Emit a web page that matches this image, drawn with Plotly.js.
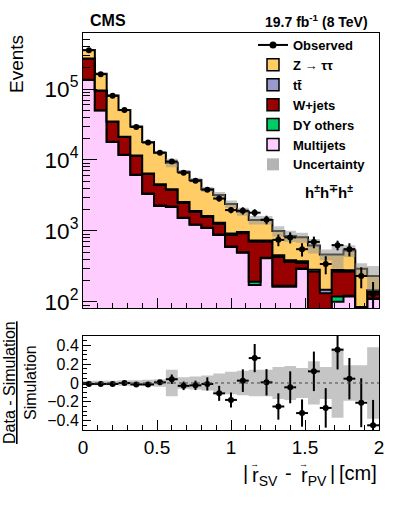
<!DOCTYPE html>
<html><head><meta charset="utf-8">
<script src="https://cdn.plot.ly/plotly-3.0.1.min.js"></script>
<style>html,body{margin:0;padding:0;background:#fff}#plot{width:399px;height:505px}</style>
</head><body><div id="plot"></div>
<script>
// bin edges of |r_SV - r_PV| [cm]
const binEdges = [0,0.08,0.16,0.24,0.32,0.40,0.48,0.56,0.64,0.72,0.80,0.88,0.96,1.04,1.12,1.20,1.28,1.36,1.44,1.52,1.60,1.68,1.76,1.84,1.92,2.00];
// stacked components (events per bin)
const multijets = [134000,49800,17900,11750,6150,3320,2250,2180,1520,1220,1100,880,596,494,173,412,164,164,292,70,70,101,119,45,110];
const dyOthers  = [500,300,150,100,60,40,30,25,20,15,12,10,8,8,20,6,5,5,4,3,3,18,3,2,2];
const wJets     = [135000,44500,16500,9250,5200,2990,2170,1575,940,615,458,366,275,427,513,288,262,197,58,194,60,148,145,28,26];
const ttbar     = [300,300,250,200,150,120,100,80,70,60,50,45,40,35,30,28,25,22,20,18,16,14,12,10,8];
const zTauTau   = [86000,69000,46200,29300,18040,11430,8050,5300,4290,3310,2240,1909,1481,916,694,696,544,463,441,340,318,186,252,209,86];
// observed data
const observed    = [352000,162000,80200,50500,29150,17630,12690,9530,6630,5090,3820,2860,1970,1930,1810,1440,750,812,554,702,343,632,555,232,128];
const observedErr = [1780,980,650,510,360,270,250,460,310,260,270,260,190,225,215,200,140,145,118,131,98,98,117,76,63];
// ratio panel
const ratio    = [-0.01,-0.01,-0.01,0.0,-0.015,-0.015,0.007,0.04,-0.03,-0.025,-0.01,-0.11,-0.18,0.025,0.265,0.007,-0.25,-0.046,-0.32,0.124,-0.265,0.354,0.046,-0.21,-0.45];
const ratioErr = [0.005,0.006,0.008,0.01,0.012,0.015,0.02,0.05,0.045,0.05,0.07,0.08,0.08,0.12,0.15,0.14,0.14,0.17,0.145,0.21,0.21,0.21,0.22,0.26,0.27];
// relative systematic uncertainty of the simulation
const relUnc   = [0.025,0.025,0.025,0.03,0.03,0.035,0.04,0.14,0.06,0.07,0.08,0.1,0.12,0.13,0.14,0.14,0.17,0.18,0.16,0.23,0.17,0.37,0.19,0.19,0.38];

const names = {obs:'Observed', z:'Z \u2192 \u03c4\u03c4', tt:'tt\u0304', w:'W+jets', dy:'DY others', mj:'Multijets', unc:'Uncertainty'};
const colors = {z:'#ffcc66', tt:'#9999cc', w:'#990000', dy:'#00cc66', mj:'#ffccff', unc:'rgba(150,150,150,0.55)'};

const centers = binEdges.slice(0,-1).map((e,i)=>(e+binEdges[i+1])/2);
const halfW = centers.map((c,i)=>(binEdges[i+1]-binEdges[i])/2);
const add = (a,b)=>a.map((v,i)=>v+b[i]);
const c1 = multijets.slice();
const c2 = add(c1, dyOthers);
const c3 = add(c2, wJets);
const c4 = add(c3, ttbar);
const c5 = add(c4, zTauTau);
const step = a => a.concat([a[a.length-1]]);

function stackTrace(y, color, fill){
  return {type:'scatter', x:binEdges, y:step(y), mode:'lines', line:{shape:'hv', color:'#000', width:2},
    fill:fill, fillcolor:color, xaxis:'x2', yaxis:'y2', showlegend:false, hoverinfo:'skip'};
}
const traces = [];
traces.push(stackTrace(c1, colors.mj, 'tozeroy'));
traces.push(stackTrace(c2, colors.dy, 'tonexty'));
traces.push(stackTrace(c3, colors.w, 'tonexty'));
traces.push(stackTrace(c4, colors.tt, 'tonexty'));
traces.push(stackTrace(c5, colors.z, 'tonexty'));
// uncertainty band main
traces.push({type:'scatter', x:binEdges, y:step(c5.map((v,i)=>v*(1-relUnc[i]))), mode:'lines', line:{shape:'hv', width:0},
  xaxis:'x2', yaxis:'y2', showlegend:false, hoverinfo:'skip'});
traces.push({type:'scatter', x:binEdges, y:step(c5.map((v,i)=>v*(1+relUnc[i]))), mode:'lines', line:{shape:'hv', width:0},
  fill:'tonexty', fillcolor:colors.unc, xaxis:'x2', yaxis:'y2', showlegend:false, hoverinfo:'skip'});
// observed
traces.push({type:'scatter', x:centers, y:observed, mode:'markers', marker:{color:'#000', size:6},
  error_y:{type:'data', array:observedErr, color:'#000', thickness:2, width:0},
  error_x:{type:'data', array:halfW, color:'#000', thickness:2, width:0},
  xaxis:'x2', yaxis:'y2', showlegend:false});
// ratio band
traces.push({type:'scatter', x:binEdges, y:step(relUnc.map(v=>-v)), mode:'lines', line:{shape:'hv', width:0},
  xaxis:'x', yaxis:'y', showlegend:false, hoverinfo:'skip'});
traces.push({type:'scatter', x:binEdges, y:step(relUnc), mode:'lines', line:{shape:'hv', width:0},
  fill:'tonexty', fillcolor:colors.unc, xaxis:'x', yaxis:'y', showlegend:false, hoverinfo:'skip'});
traces.push({type:'scatter', x:centers, y:ratio, mode:'markers', marker:{color:'#000', size:6},
  error_y:{type:'data', array:ratioErr, color:'#000', thickness:2, width:0},
  error_x:{type:'data', array:halfW, color:'#000', thickness:2, width:0},
  xaxis:'x', yaxis:'y', showlegend:false});
// legend entries (single null point: nothing is drawn, only the legend item)
traces.push({type:'scatter', x:[null], y:[null], mode:'lines+markers', line:{color:'#000', width:2}, marker:{color:'#000', size:7},
  name:names.obs, legendrank:1, xaxis:'x2', yaxis:'y2', hoverinfo:'skip'});
const legBox = (key, rank, outline)=>({type:'bar', x:[null], y:[null], name:names[key], legendrank:rank,
  marker:{color:colors[key], line:{color:'#000', width: outline?1.5:0}}, xaxis:'x2', yaxis:'y2', hoverinfo:'skip'});
traces.push(legBox('z',2,true));
traces.push(legBox('tt',3,true));
traces.push(legBox('w',4,true));
traces.push(legBox('dy',5,true));
traces.push(legBox('mj',6,true));
traces.push({type:'bar', x:[null], y:[null], name:names.unc, legendrank:7, marker:{color:'#b4b4b4', line:{width:0}}, xaxis:'x2', yaxis:'y2', hoverinfo:'skip'});

const FONT = 'Liberation Sans, Arial, Helvetica, sans-serif';
const axBase = {showline:true, mirror:true, linecolor:'#000', linewidth:1, showgrid:false, zeroline:false, ticks:'inside', tickcolor:'#000'};
const pxX = p => (p-83)/296;      // paper helpers for text placement
const pxY = p => (430-p)/397;
const TY = 473;
const layout = {
  width:399, height:505, margin:{l:83, r:20, t:33, b:75},
  paper_bgcolor:'#fff', plot_bgcolor:'#fff',
  font:{family:FONT, color:'#000'},
  showlegend:true,
  legend:{x:pxX(253), y:pxY(30), xanchor:'left', yanchor:'top', traceorder:'normal', bgcolor:'rgba(255,255,255,0)', font:{size:13, weight:'bold', family:FONT}, tracegroupgap:0, itemwidth:30},
  xaxis:Object.assign({}, axBase, {domain:[0,1], anchor:'y', range:[0,2], tick0:0, dtick:0.5, ticklen:10,
    minor:{dtick:0.1, ticklen:5, ticks:'inside', tickcolor:'#000'}, tickfont:{size:19}}),
  xaxis2:Object.assign({}, axBase, {domain:[0,1], anchor:'y2', matches:'x', range:[0,2], tick0:0, dtick:0.5, ticklen:10,
    minor:{dtick:0.1, ticklen:5, ticks:'inside', tickcolor:'#000'}, showticklabels:false}),
  yaxis:Object.assign({}, axBase, {domain:[0,0.2368], anchor:'x', range:[-0.5,0.5], tick0:0, dtick:0.2, ticklen:8,
    minor:{dtick:0.05, ticklen:4, ticks:'inside', tickcolor:'#000'}, tickfont:{size:16}}),
  yaxis2:Object.assign({}, axBase, {domain:[0.3073,1], anchor:'x2', type:'log', range:[1.915,5.789], dtick:1, exponentformat:'power', ticklen:14,
    minor:{dtick:'D1', ticklen:7, ticks:'inside', tickcolor:'#000'}, tickfont:{size:18}}),
  shapes:[{type:'line', xref:'x domain', x0:0, x1:1, yref:'y', y0:0, y1:0, line:{color:'#444', width:1, dash:'dot'}}],
  annotations:[
    {text:'<b>CMS</b>', xref:'paper', yref:'paper', x:pxX(88), y:pxY(20), xanchor:'left', yanchor:'middle', showarrow:false, font:{size:16}},
    {text:'<b>19.7 fb<sup>-1</sup> (8 TeV)</b>', xref:'paper', yref:'paper', x:pxX(370), y:pxY(21), xanchor:'right', yanchor:'middle', showarrow:false, font:{size:14}},
    {text:'<b>h<sup>\u00b1</sup>h<sup>\u2213</sup>h<sup>\u00b1</sup></b>', xref:'paper', yref:'paper', x:pxX(329), y:pxY(191), xanchor:'center', yanchor:'middle', showarrow:false, font:{size:15}},
    {text:'Events', xref:'paper', yref:'paper', x:pxX(16), y:1.0, xanchor:'center', yanchor:'top', textangle:-90, showarrow:false, font:{size:19}},
    {text:'<u>Data - Simulation</u><br>Simulation', xref:'paper', yref:'paper', x:pxX(20), y:pxY(383), xanchor:'center', yanchor:'middle', textangle:-90, showarrow:false, font:{size:16}},
    // x-axis title, pieced together so the vector arrows sit over the r
    {text:'|', xref:'paper', yref:'paper', x:pxX(245.5), y:pxY(TY), xanchor:'center', yanchor:'middle', showarrow:false, font:{size:20}},
    {text:'r<sub>SV</sub>', xref:'paper', yref:'paper', x:pxX(250), y:pxY(TY+3), xanchor:'left', yanchor:'middle', showarrow:false, font:{size:20}},
    {text:'-', xref:'paper', yref:'paper', x:pxX(288.5), y:pxY(TY), xanchor:'center', yanchor:'middle', showarrow:false, font:{size:20}},
    {text:'r<sub>PV</sub>', xref:'paper', yref:'paper', x:pxX(298.5), y:pxY(TY+3), xanchor:'left', yanchor:'middle', showarrow:false, font:{size:20}},
    {text:'|', xref:'paper', yref:'paper', x:pxX(332.5), y:pxY(TY), xanchor:'center', yanchor:'middle', showarrow:false, font:{size:20}},
    {text:'[cm]', xref:'paper', yref:'paper', x:pxX(379), y:pxY(TY), xanchor:'right', yanchor:'middle', showarrow:false, font:{size:20}},
    {text:'\u2192', xref:'paper', yref:'paper', x:pxX(254.5), y:pxY(464), xanchor:'center', yanchor:'middle', showarrow:false, font:{size:9}},
    {text:'\u2192', xref:'paper', yref:'paper', x:pxX(303), y:pxY(464), xanchor:'center', yanchor:'middle', showarrow:false, font:{size:9}}
  ]
};
Plotly.newPlot('plot', traces, layout, {staticPlot:true, displayModeBar:false});
</script></body></html>
